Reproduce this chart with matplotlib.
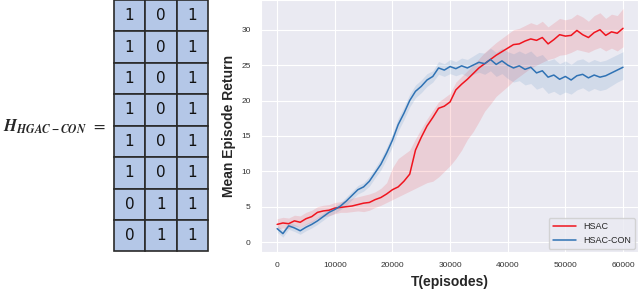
import numpy as np
import matplotlib
matplotlib.use("Agg")
import matplotlib.pyplot as plt
import seaborn as sns
from matplotlib.patches import Rectangle

# matrix on the left
H_MATRIX = [
    [1, 0, 1],
    [1, 0, 1],
    [1, 0, 1],
    [1, 0, 1],
    [1, 0, 1],
    [1, 0, 1],
    [0, 1, 1],
    [0, 1, 1],
]

# learning curves, one value per 1000 episodes
episodes = list(range(0, 61000, 1000))

hsac_mean = [2.5, 2.7, 2.6, 3.0, 2.8, 3.3, 3.6, 4.2, 4.4, 4.5,
             4.8, 4.9, 5.0, 5.1, 5.3, 5.5, 5.6, 6.0, 6.3, 6.8,
             7.4, 7.8, 8.6, 9.6, 13.0, 14.8, 16.4, 17.6, 18.9, 19.2,
             19.8, 21.5, 22.3, 23.0, 23.8, 24.6, 25.2, 25.8, 26.4, 26.9,
             27.4, 27.9, 28.0, 28.4, 28.7, 28.5, 28.9, 28.0, 28.6, 29.3,
             29.1, 29.2, 29.9, 29.3, 28.9, 29.6, 30.0, 29.2, 29.7, 29.5,
             30.2]
hsac_low = [1.8, 2.0, 1.9, 2.3, 2.1, 2.5, 2.8, 3.4, 3.6, 3.7,
            4.0, 4.2, 4.2, 4.3, 4.4, 4.3, 4.5, 4.9, 5.2, 5.6,
            6.0, 6.4, 6.8, 7.2, 7.6, 8.0, 8.4, 8.6, 9.2, 10.0,
            10.8, 11.8, 13.0, 14.5, 15.6, 17.0, 18.5, 19.5, 20.6, 21.3,
            22.0, 22.8, 23.4, 24.0, 24.6, 25.0, 25.4, 25.8, 26.0, 26.4,
            26.5, 26.8, 27.2, 27.0, 26.8, 27.2, 27.5, 27.0, 27.4, 27.0,
            27.6]
hsac_high = [3.3, 3.5, 3.4, 3.8, 3.7, 4.2, 4.5, 5.0, 5.2, 5.3,
             5.6, 5.7, 5.9, 6.2, 6.4, 6.6, 6.8, 7.1, 7.6, 8.4,
             10.5, 11.8, 12.4, 13.0, 14.6, 16.0, 17.4, 18.6, 19.8, 20.4,
             21.0, 22.6, 23.4, 24.2, 25.0, 25.9, 26.8, 27.5, 28.2, 28.8,
             29.4, 30.0, 30.2, 30.6, 31.0, 30.7, 31.2, 30.4, 31.0, 31.6,
             31.4, 31.6, 32.2, 31.8, 31.2, 32.0, 32.4, 31.6, 32.2, 32.0,
             33.0]

con_mean = [1.9, 1.2, 2.3, 2.0, 1.6, 2.1, 2.5, 3.0, 3.6, 4.2,
            4.6, 5.1, 5.8, 6.6, 7.4, 7.8, 8.6, 9.8, 11.0, 12.6,
            14.4, 16.6, 18.2, 20.0, 21.3, 22.0, 22.9, 23.4, 24.6, 24.3,
            24.8, 24.5, 24.9, 24.6, 25.0, 25.4, 25.2, 25.8, 25.1, 25.6,
            25.0, 24.6, 24.9, 24.4, 24.7, 23.9, 24.2, 23.3, 23.6, 23.0,
            23.4, 22.9, 23.5, 23.7, 23.2, 23.6, 23.3, 23.5, 23.9, 24.3,
            24.7]
con_low = [1.4, 0.7, 1.8, 1.5, 1.1, 1.6, 2.0, 2.5, 3.1, 3.7,
           4.1, 4.6, 5.2, 6.0, 6.8, 7.2, 7.9, 9.1, 10.2, 11.8,
           13.5, 15.7, 17.3, 19.1, 20.4, 21.1, 22.0, 22.6, 23.7, 23.4,
           23.8, 23.5, 23.8, 23.4, 23.7, 24.0, 23.7, 24.2, 23.4, 23.8,
           23.1, 22.6, 22.8, 22.2, 22.4, 21.6, 21.9, 21.0, 21.3, 20.8,
           21.2, 20.9, 21.5, 21.8, 21.3, 21.7, 21.4, 21.6, 22.1, 22.6,
           23.0]
con_high = [2.4, 1.7, 2.8, 2.5, 2.1, 2.6, 3.0, 3.5, 4.1, 4.7,
            5.1, 5.6, 6.4, 7.2, 8.0, 8.4, 9.3, 10.5, 11.8, 13.4,
            15.3, 17.5, 19.1, 20.9, 22.2, 22.9, 23.8, 24.2, 25.5, 25.2,
            25.8, 25.5, 26.0, 25.8, 26.3, 26.8, 26.7, 27.4, 26.8, 27.4,
            26.9, 26.6, 27.0, 26.6, 27.0, 26.2, 26.5, 25.6, 25.9, 25.2,
            25.6, 25.1, 25.7, 25.9, 25.4, 25.8, 25.5, 25.7, 26.1, 26.5,
            26.9]

SERIES = [
    ("HSAC", hsac_mean, hsac_low, hsac_high, "#f0141e"),
    ("HSAC-CON", con_mean, con_low, con_high, "#2f72b4"),
]

sns.set_style("darkgrid")
plt.rcParams["font.family"] = ["Liberation Sans", "DejaVu Sans"]
plt.rcParams["mathtext.fontset"] = "stix"

fig = plt.figure(figsize=(6.4, 2.92), dpi=100)

# --- left part: the matrix drawn as cells ---
tab = fig.add_axes([113 / 640, 40 / 292, 96 / 640, 252 / 292])
nrows, ncols = len(H_MATRIX), len(H_MATRIX[0])
for r, row in enumerate(H_MATRIX):
    for c, v in enumerate(row):
        y = nrows - 1 - r
        tab.add_patch(Rectangle((c, y), 1, 1, facecolor="#b4c7e7",
                                edgecolor="#2a2a2a", linewidth=1.2))
        tab.text(c + 0.5, y + 0.5, str(v), ha="center", va="center",
                 fontsize=11, color="#111111", family="DejaVu Sans")
tab.set_xlim(-0.02, ncols + 0.02)
tab.set_ylim(-0.02, nrows)
tab.axis("off")

fig.text(3 / 640, 1 - 127 / 292, r"$\mathbfit{H}_{\mathbfit{HGAC-CON}}\ \,=$",
         fontsize=12, ha="left", va="center")

# --- right part: learning curves ---
ax = fig.add_axes([261 / 640, 40 / 292, 377 / 640, 252 / 292])
for name, mean, low, high, col in SERIES:
    ax.fill_between(episodes, low, high, color=col, alpha=0.13, linewidth=0)
    ax.plot(episodes, mean, color=col, linewidth=1.1, label=name)

ax.set_xlim(-2800, 62600)
ax.set_ylim(-1.4, 34.2)
ax.set_xticks([0, 10000, 20000, 30000, 40000, 50000, 60000])
ax.set_yticks([0, 5, 10, 15, 20, 25, 30])
ax.tick_params(labelsize=6, colors="#333333", pad=4)
ax.set_xlabel("T(episodes)", fontsize=10, fontweight="bold", labelpad=4)
ax.set_ylabel("Mean Episode Return", fontsize=10, fontweight="bold", labelpad=4)

leg = ax.legend(loc="lower right", fontsize=6.5, frameon=True,
                handlelength=2.5, borderpad=0.5, borderaxespad=0.3)

fig.savefig("out.png", dpi=100)
